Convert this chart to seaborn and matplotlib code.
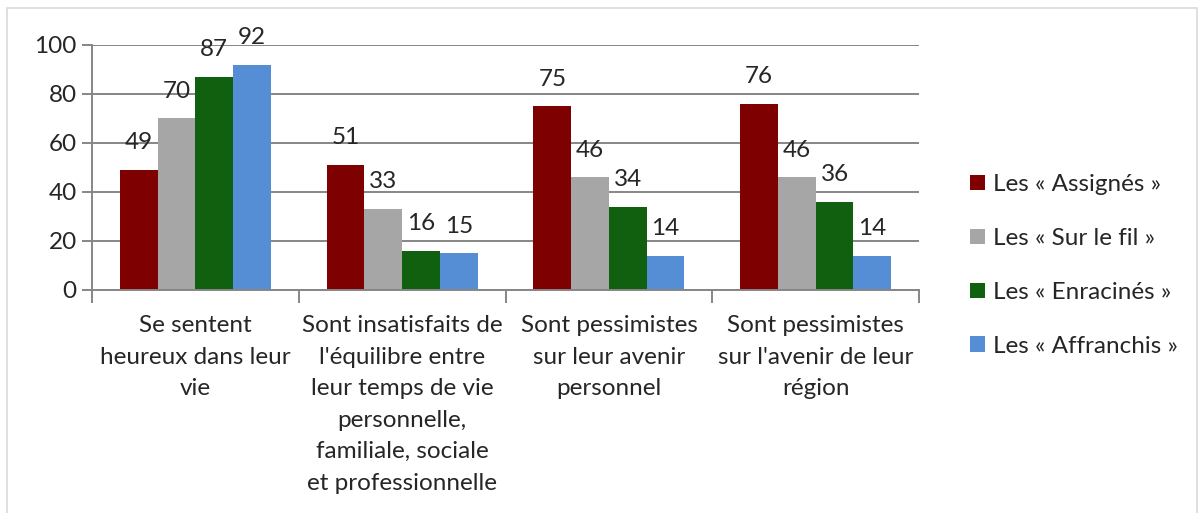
import numpy as np
import pandas as pd
import seaborn as sns
import matplotlib.pyplot as plt
from matplotlib.patches import Rectangle

# categories (x axis), as wrapped in the original
categories = [
    "Se sentent\nheureux dans leur\nvie",
    "Sont insatisfaits de\nl'équilibre entre\nleur temps de vie\npersonnelle,\nfamiliale, sociale\net professionnelle",
    "Sont pessimistes\nsur leur avenir\npersonnel",
    "Sont pessimistes\nsur l'avenir de leur\nrégion",
]
groups = ["Les « Assignés »", "Les « Sur le fil »", "Les « Enracinés »", "Les « Affranchis »"]
assignes = [49, 51, 75, 76]
sur_le_fil = [70, 33, 46, 46]
enracines = [87, 16, 34, 36]
affranchis = [92, 15, 14, 14]
colors = ["#7f0000", "#a6a6a6", "#10600f", "#558ed5"]

# long table for seaborn
rows = []
for grp, vals in zip(groups, [assignes, sur_le_fil, enracines, affranchis]):
    for cat, v in zip(categories, vals):
        rows.append({"categorie": cat, "groupe": grp, "valeur": v})
df = pd.DataFrame(rows)

sns.set_style("white")
plt.rcParams['font.family'] = ['Lato', 'DejaVu Sans']
fs = 17.5

fig = plt.figure(figsize=(12.04, 5.13), dpi=100)
ax = fig.add_axes([0.0764, 0.4347, 0.687, 0.4776])

sns.barplot(data=df, x="categorie", y="valeur", hue="groupe", order=categories,
            hue_order=groups, palette=colors, width=0.73, gap=0, saturation=1,
            errorbar=None, linewidth=0, ax=ax)

# value labels above the bars
for cont in ax.containers:
    ax.bar_label(cont, padding=12, fontsize=fs)

grid_col = "#868686"
ax.set_ylim(0, 100)
ax.set_xlim(-0.5, 3.5)
ax.set_yticks(np.arange(0, 101, 20))
ax.yaxis.grid(True, color=grid_col, linewidth=1.4)
ax.set_axisbelow(True)
for s in ["top", "right"]:
    ax.spines[s].set_visible(False)
for s in ["left", "bottom"]:
    ax.spines[s].set_color(grid_col)
    ax.spines[s].set_linewidth(1.4)

ax.tick_params(axis="y", which="major", length=7, width=1.4, color=grid_col,
               labelsize=fs, pad=4, left=True)
ax.set_xticks(np.arange(-0.5, 3.6, 1.0), minor=True)
ax.tick_params(axis="x", which="minor", length=9, width=1.4, color=grid_col, bottom=True)
ax.tick_params(axis="x", which="major", length=0, labelsize=fs, pad=18)
for lab in ax.get_xticklabels():
    lab.set_linespacing(1.62)
ax.set_xlabel("")
ax.set_ylabel("")

leg = ax.legend(loc="center left", bbox_to_anchor=(1.035, 0.1), frameon=False,
                fontsize=fs, handlelength=0.6, handleheight=0.6, handletextpad=0.35,
                labelspacing=1.35)

# light frame around the chart
fig.patches.append(Rectangle((0.006, -0.01), 0.988, 0.995, transform=fig.transFigure,
                             fill=False, edgecolor="#d9d9d9", linewidth=1.2))

fig.savefig("out.png", dpi=100)
